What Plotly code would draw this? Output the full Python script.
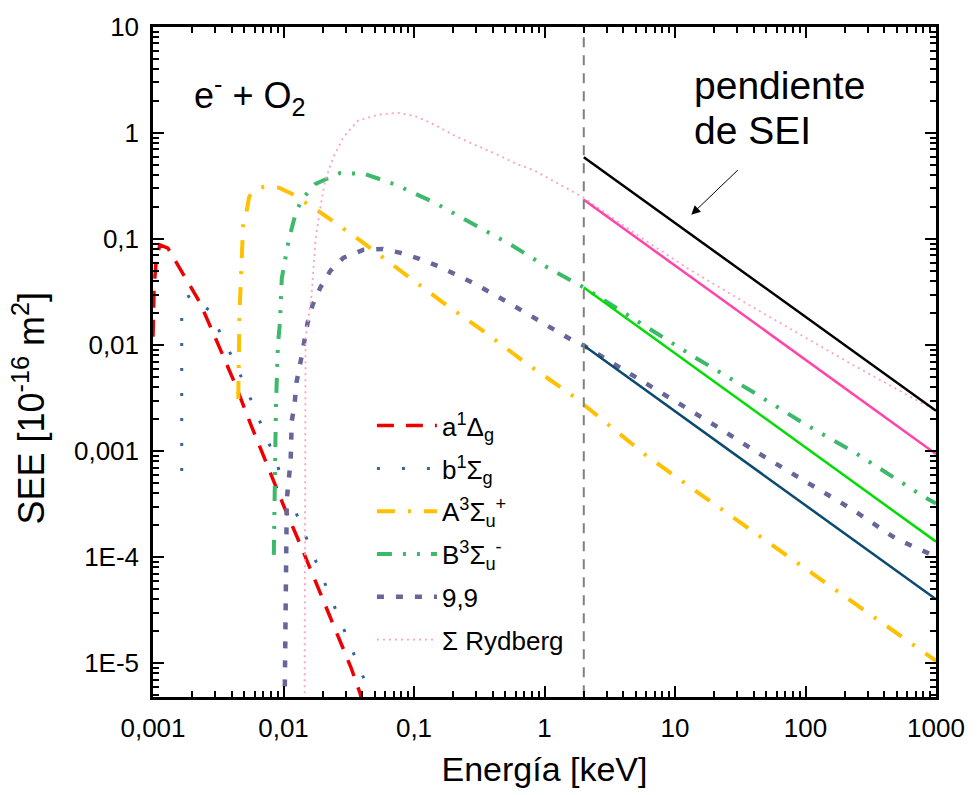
import plotly.graph_objects as go

# ---------------- data ----------------
# a1Δg
a1_x = [0.001, 0.00102, 0.00106, 0.00113, 0.0013, 0.00228, 0.00312, 0.0042, 0.00565,
        0.00747, 0.01, 0.0135, 0.0185, 0.0249, 0.033, 0.0386, 0.045]
a1_y = [0.012, 0.035, 0.065, 0.088, 0.082, 0.0254, 0.0105, 0.00448, 0.00175,
        7.4e-4, 3.08e-4, 1.3e-4, 5.1e-5, 2.16e-5, 9e-6, 5.2e-6, 2.5e-6]

# b1Σg
b1_x = [0.00166, 0.00166, 0.0018, 0.0020, 0.00271, 0.00334, 0.00405, 0.00491, 0.00585,
        0.00697, 0.0083, 0.0097, 0.01156, 0.01377, 0.0164, 0.0195, 0.0233, 0.0277,
        0.033, 0.0393, 0.0468, 0.055]
b1_y = [6.5e-4, 0.019, 0.028, 0.030, 0.021, 0.0125, 0.00766, 0.00457, 0.00268,
        0.00157, 9.6e-4, 5.6e-4, 3.28e-4, 1.92e-4, 1.17e-4, 6.9e-5, 4.0e-5, 2.4e-5,
        1.41e-5, 8.2e-6, 5.0e-6, 3.0e-6]

# A3Σu+
A3_x = [0.0045, 0.0046, 0.0049, 0.00518, 0.00546, 0.00596, 0.0071, 0.0092, 0.01156,
        0.0192, 0.0393, 0.079, 0.165, 0.344, 0.692, 1.69, 2.0, 5.94, 16.9, 51, 146, 470, 1000]
A3_y = [0.0031, 0.02, 0.132, 0.175, 0.251, 0.292, 0.311, 0.305, 0.268,
        0.178, 0.0957, 0.0504, 0.0254, 0.0134, 0.00703, 0.00325, 0.00275, 9.2e-4,
        3.66e-4, 1.39e-4, 5.67e-5, 2.03e-5, 1.05e-5]

# B3Σu-
B3_x = [0.00843, 0.00859, 0.00875, 0.00906, 0.00938, 0.0097, 0.0104, 0.011, 0.0124,
        0.0138, 0.0176, 0.0272, 0.0422, 0.0725, 0.143, 0.269, 0.541, 1.09, 2.0, 14.2,
        38.5, 97.4, 242, 822, 1000]
B3_y = [1.05e-4, 6e-4, 0.00262, 0.0101, 0.0159, 0.0425, 0.0666, 0.1, 0.175,
        0.236, 0.332, 0.42, 0.411, 0.325, 0.221, 0.144, 0.0898, 0.0526, 0.035, 0.00766,
        0.00369, 0.00182, 9.6e-4, 3.66e-4, 3.2e-4]

# 9,9
n99_x = [0.0102, 0.0104, 0.0106, 0.01135, 0.01156, 0.0122, 0.0126, 0.0135, 0.01426,
         0.0153, 0.0167, 0.0192, 0.0229, 0.0287, 0.0407, 0.0578, 0.079, 0.11, 0.156,
         0.279, 0.505, 0.914, 1.6, 2.0, 6.71, 20.2, 45.9, 102.6, 233, 495, 1000]
n99_y = [4e-6, 3e-5, 3.5e-4, 8.2e-4, 0.0019, 0.0029, 0.0045, 0.0069, 0.0105,
         0.0162, 0.0238, 0.035, 0.0503, 0.0665, 0.079, 0.0807, 0.074, 0.0652, 0.055,
         0.039, 0.026, 0.0169, 0.01125, 0.0099, 0.00403, 0.00175, 9.2e-4, 5.04e-4,
         2.77e-4, 1.49e-4, 1.01e-4]

# Σ Rydberg
ryd_x = [0.0145, 0.01476, 0.0164, 0.0176, 0.0192, 0.0209, 0.0241, 0.0287, 0.0373, 0.053,
         0.075, 0.101, 0.134, 0.203, 0.288, 0.431, 0.612, 0.824, 2.0, 5.26, 12.6, 40.6,
         206, 1000]
ryd_y = [4e-6, 0.0117, 0.0295, 0.1, 0.203, 0.361, 0.591, 0.908, 1.31, 1.49,
         1.55, 1.45, 1.25, 0.95, 0.78, 0.63, 0.51, 0.448, 0.245, 0.107, 0.0526, 0.0223,
         0.00703, 0.0024]

# straight high-energy slopes (from 2 keV to 1000 keV)
sei_x = [2, 1000]
sei_black = [0.59, 0.0024]
sei_pink = [0.235, 9.4e-4]
sei_green = [0.035, 1.4e-4]
sei_blue = [0.0099, 4.0e-5]

# threshold marker at 2 keV
thr_x = [2, 2]
thr_y = [1e-7, 100]

x_tickvals = [0.001, 0.01, 0.1, 1, 10, 100, 1000]
x_ticktext = ["0,001", "0,01", "0,1", "1", "10", "100", "1000"]
y_tickvals = [1e-5, 1e-4, 1e-3, 0.01, 0.1, 1, 10]
y_ticktext = ["1E-5", "1E-4", "0,001", "0,01", "0,1", "1", "10"]

FONT = "Arial, Liberation Sans, sans-serif"

fig = go.Figure()

# legend curves
fig.add_trace(go.Scatter(x=a1_x, y=a1_y, mode="lines", legendgroup="g1",
                         name="a<sup>1</sup>Δ<sub>g</sub>",
                         line=dict(color="#ee0000", width=3.5, dash="17px,12px")))
fig.add_trace(go.Scatter(x=b1_x, y=b1_y, mode="lines", legendgroup="g2",
                         name="b<sup>1</sup>Σ<sub>g</sub>",
                         line=dict(color="#336699", width=3, dash="3px,22px")))
fig.add_trace(go.Scatter(x=A3_x, y=A3_y, mode="lines", legendgroup="g3",
                         name="A<sup>3</sup>Σ<sub>u</sub><sup>+</sup>",
                         line=dict(color="#ffc000", width=4, dash="18px,13px,3px,13px")))
fig.add_trace(go.Scatter(x=B3_x, y=B3_y, mode="lines", legendgroup="g4",
                         name="B<sup>3</sup>Σ<sub>u</sub><sup>-</sup>",
                         line=dict(color="#3cb96a", width=4,
                                   dash="15px,11px,3px,11px,3px,11px")))
fig.add_trace(go.Scatter(x=n99_x, y=n99_y, mode="lines", legendgroup="g5",
                         name="9,9",
                         line=dict(color="#666699", width=4.5, dash="7px,12px")))
fig.add_trace(go.Scatter(x=ryd_x, y=ryd_y, mode="lines", legendgroup="g6",
                         name="Σ Rydberg",
                         line=dict(color="#ff9fc6", width=1.8, dash="2px,4px")))

# straight lines
for yy, col in [(sei_black, "#000000"), (sei_pink, "#ff44aa"),
                (sei_green, "#00dd00"), (sei_blue, "#0b4a70")]:
    fig.add_trace(go.Scatter(x=sei_x, y=yy, mode="lines", showlegend=False,
                             line=dict(color=col, width=2.5)))

fig.add_trace(go.Scatter(x=thr_x, y=thr_y, mode="lines", showlegend=False,
                         line=dict(color="#808080", width=2, dash="10px,8px")))

minor_vals = [m * 10 ** e for e in range(-6, 4) for m in range(2, 10)]

axis_common = dict(
    type="log",
    showline=True, linecolor="black", linewidth=2.5, mirror="allticks",
    ticks="inside", ticklen=11, tickwidth=2, tickcolor="black",
    showgrid=False, zeroline=False,
    tickfont=dict(family=FONT, size=26, color="black"),
    minor=dict(ticks="inside", ticklen=6, tickwidth=1.5, tickcolor="black",
               tickmode="array", tickvals=minor_vals, showgrid=False),
)

fig.update_xaxes(**axis_common, range=[-3, 3], tickmode="array",
                 tickvals=x_tickvals, ticktext=x_ticktext,
                 title=dict(text="Energía [keV]", font=dict(family=FONT, size=34, color="black"),
                            standoff=16),
                 ticklabelstandoff=6)
fig.update_yaxes(**axis_common, range=[-5.319, 1], tickmode="array",
                 tickvals=y_tickvals, ticktext=y_ticktext,
                 ticklabelstandoff=6)

# y-axis title (placed as rotated text to match the reference position)
fig.add_annotation(text="SEE [10<sup>-16</sup> m<sup>2</sup>]", xref="paper", yref="paper",
                   x=-0.158, y=0.431, xanchor="center", yanchor="middle", textangle=-90,
                   showarrow=False, font=dict(family=FONT, size=36, color="black"))

fig.add_annotation(text="e<sup>-</sup> + O<sub>2</sub>", xref="paper", yref="paper",
                   x=0.1228, y=0.898, xanchor="center", yanchor="middle", showarrow=False,
                   font=dict(family=FONT, size=36, color="black"))
fig.add_annotation(text="pendiente", xref="paper", yref="paper", height=44,
                   x=0.6886, y=0.913, xanchor="left", yanchor="middle", showarrow=False,
                   font=dict(family=FONT, size=39, color="black"))
fig.add_annotation(text="de SEI", xref="paper", yref="paper", height=44,
                   x=0.6886, y=0.847, xanchor="left", yanchor="middle", showarrow=False,
                   font=dict(family=FONT, size=39, color="black"))
fig.add_annotation(text="", x=1.125, y=-0.77, xref="x", yref="y",
                   ax=48, ay=-46, showarrow=True, arrowhead=2, arrowsize=1.8,
                   arrowwidth=1, arrowcolor="black", standoff=0)

fig.update_layout(
    width=977, height=795,
    margin=dict(l=153, r=34, t=18, b=97),
    plot_bgcolor="white", paper_bgcolor="white",
    font=dict(family=FONT, color="black"),
    legend=dict(x=0.2796, y=0.44, xanchor="left", yanchor="top", itemwidth=60,
                bgcolor="rgba(0,0,0,0)", font=dict(family=FONT, size=26, color="black"),
                tracegroupgap=6),
)

fig.write_html("out.html")
